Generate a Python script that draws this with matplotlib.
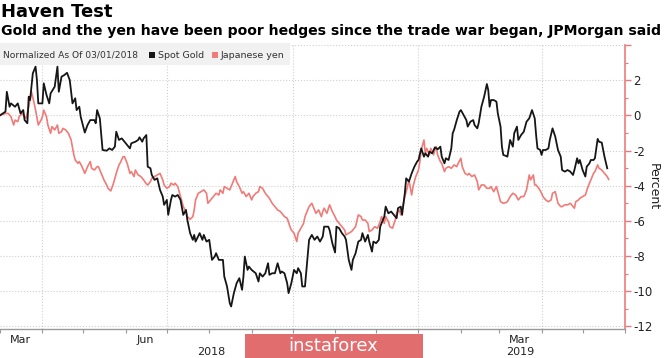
import pandas as pd
import matplotlib
matplotlib.use('Agg')
import matplotlib.pyplot as plt
from matplotlib.patches import Rectangle
from matplotlib.ticker import FixedLocator, FuncFormatter

plt.rcParams['axes.unicode_minus'] = False

# data: days since 2018-03-01 (normalization date) and % change
base_date = pd.Timestamp('2018-03-01')

gold_days = [0, 4, 5, 7, 8, 11, 13, 15, 17, 18, 20, 21, 22, 24, 26, 27, 28, 30, 31, 32, 34, 36, 37, 40,
             42, 43, 45, 47, 49, 51, 53, 55, 56, 58, 59, 62, 64, 66, 69, 70, 71, 73, 75, 78, 80, 82, 84,
             85, 87, 89, 90, 91, 93, 95, 96, 99, 101, 102, 104, 105, 107, 108, 110, 111, 113, 115, 117,
             119, 120, 122, 123, 125, 126, 128, 130, 132, 134, 136, 137, 139, 141, 142, 143, 146, 148,
             149, 151, 153, 155, 157, 158, 160, 163, 164, 166, 168, 169, 171, 173, 175, 177, 178, 179,
             181, 182, 184, 187, 189, 190, 192, 194, 196, 197, 199, 201, 203, 205, 206, 208, 210, 211,
             213, 215, 217, 218, 220, 221, 223, 226, 228, 230, 232, 234, 236, 237, 240, 241, 243, 245,
             246, 248, 250, 252, 253, 255, 257, 258, 260, 262, 264, 265, 267, 269, 270, 272, 273, 275,
             277, 278, 279, 281, 282, 284, 286, 288, 290, 291, 293, 294, 296, 297, 299, 301, 303, 305,
             306, 308, 310, 311, 313, 314, 316, 318, 320, 322, 323, 325, 326, 328, 330, 331, 332, 334,
             336, 337, 339, 341, 342, 344, 346, 347, 349, 350, 352, 354, 356, 357, 358, 359, 361, 363,
             364, 366, 367, 368, 370, 371, 373, 375, 376, 378, 379, 381, 383, 384, 385, 387, 389, 391,
             392, 393, 395, 396, 397, 399, 401, 402, 404, 406, 408, 410, 411, 413, 415, 417, 419, 420,
             422, 423, 424, 426, 428, 429, 431, 432, 434, 435, 437, 438, 440, 442, 444]
gold_pct = [0.0, 0.21, 1.34, 0.49, 0.68, 0.49, 0.68, 0.11, 0.30, -0.27, -0.45, 1.06, 0.87, 2.39, 2.77,
            2.01, 0.68, 0.68, 0.68, 1.82, 1.16, 0.68, 1.25, 1.63, 2.77, 1.34, 2.20, 2.29, 2.42, 2.01,
            0.68, 0.97, 0.30, 0.49, -0.08, -0.98, -0.55, -0.27, -0.27, -0.45, 0.30, -0.17, -1.97, -2.01,
            -1.88, -1.97, -1.78, -0.93, -1.40, -1.31, -1.40, -1.50, -1.69, -1.88, -1.59, -1.50, -1.40,
            -1.25, -1.50, -1.31, -1.12, -2.92, -3.01, -3.39, -3.67, -3.58, -4.24, -4.62, -5.09, -4.81,
            -5.66, -4.81, -4.53, -4.62, -4.53, -4.81, -5.66, -5.38, -5.95, -6.70, -7.08, -6.80, -7.18,
            -6.70, -7.08, -6.80, -7.18, -7.08, -8.22, -8.03, -7.84, -8.22, -8.22, -9.17, -9.73, -10.68,
            -10.87, -10.11, -9.55, -9.26, -9.92, -9.17, -8.03, -8.79, -8.60, -8.79, -8.98, -9.45, -8.98,
            -9.17, -8.98, -8.41, -9.07, -8.98, -8.98, -8.41, -8.98, -8.88, -8.98, -9.55, -10.11, -9.55,
            -8.79, -8.98, -8.69, -8.98, -9.73, -9.73, -7.08, -6.80, -7.08, -6.89, -7.18, -6.89, -6.33,
            -6.33, -6.52, -7.27, -7.80, -6.33, -6.42, -6.70, -6.89, -7.08, -8.22, -8.79, -8.22, -7.84,
            -7.18, -7.08, -6.70, -7.18, -6.80, -7.18, -7.75, -7.18, -7.27, -7.08, -6.33, -6.14, -5.76,
            -5.19, -5.57, -5.47, -5.66, -5.85, -5.28, -5.19, -5.66, -4.43, -3.58, -3.77, -3.30, -2.92,
            -2.63, -2.54, -1.88, -2.35, -2.16, -2.35, -2.06, -2.16, -1.82, -1.93, -1.78, -2.35, -2.73,
            -2.44, -2.54, -1.88, -1.02, -0.83, -0.27, 0.21, 0.30, 0.02, -0.27, -0.64, -0.36, -0.27,
            -0.55, -0.74, -0.45, 0.49, 1.06, 1.78, 1.44, 0.49, 0.87, 0.87, 0.78, 0.11, -0.64, -1.78,
            -2.25, -2.31, -2.35, -1.40, -1.78, -1.02, -0.64, -1.40, -1.12, -0.93, -0.64, -0.36, -0.17,
            0.30, -0.17, -1.12, -1.88, -1.97, -2.25, -1.97, -1.97, -1.88, -1.40, -0.74, -1.21, -1.97,
            -2.35, -3.11, -3.20, -3.11, -3.20, -3.39, -3.11, -2.44, -2.73, -2.54, -3.11, -3.48, -2.92,
            -2.73, -2.54, -2.54, -2.44, -1.34, -1.50, -1.55, -2.35, -3.01]

yen_days = [0, 4, 6, 8, 10, 11, 13, 14, 16, 17, 19, 21, 23, 25, 26, 28, 30, 31, 32, 34, 35, 37, 38, 40,
            42, 43, 45, 46, 48, 50, 52, 54, 55, 57, 58, 60, 62, 64, 66, 67, 69, 71, 72, 74, 76, 78, 79,
            81, 83, 85, 87, 88, 90, 91, 93, 95, 96, 98, 99, 101, 103, 105, 107, 108, 110, 111, 113, 115,
            117, 119, 120, 122, 124, 125, 127, 128, 130, 131, 132, 134, 136, 137, 139, 141, 142, 143,
            145, 147, 149, 151, 152, 154, 156, 158, 160, 161, 163, 164, 166, 168, 170, 172, 173, 175,
            177, 178, 180, 182, 184, 185, 187, 189, 190, 192, 194, 196, 197, 199, 201, 203, 205, 206,
            208, 210, 212, 213, 215, 217, 218, 220, 222, 223, 225, 226, 228, 230, 231, 233, 235, 236,
            237, 239, 241, 243, 245, 246, 248, 250, 252, 253, 255, 257, 258, 260, 262, 264, 265, 267,
            269, 270, 272, 274, 276, 278, 279, 281, 282, 284, 285, 287, 289, 290, 292, 293, 295, 296,
            298, 299, 301, 302, 304, 306, 307, 308, 310, 311, 312, 314, 315, 317, 318, 319, 320, 322,
            323, 325, 326, 328, 330, 332, 334, 335, 337, 338, 340, 342, 343, 345, 347, 349, 350, 352,
            354, 356, 358, 359, 361, 363, 364, 366, 368, 370, 371, 373, 375, 377, 379, 381, 383, 384,
            385, 387, 388, 390, 391, 392, 394, 396, 397, 399, 401, 403, 404, 406, 408, 410, 411, 413,
            415, 417, 419, 420, 421, 423, 424, 426, 428, 430, 432, 434, 435, 437, 438, 440, 442, 444,
            445]
yen_pct = [0.0, 0.11, 0.11, -0.08, -0.55, -0.27, -0.36, -0.08, 0.11, 0.02, -0.17, 0.49, 1.34, 0.68,
           0.30, -0.55, -0.27, -0.08, 0.30, -0.08, -0.55, -1.02, -0.64, -0.83, -0.55, -1.02, -0.93,
           -0.74, -0.83, -1.02, -1.40, -2.25, -2.54, -2.73, -2.63, -2.92, -3.30, -2.92, -2.63, -3.01,
           -3.11, -2.92, -2.92, -3.30, -3.67, -3.96, -4.15, -4.30, -3.86, -3.30, -2.82, -2.69, -2.35,
           -2.35, -2.73, -3.30, -3.20, -3.48, -3.11, -3.39, -3.48, -3.67, -3.90, -3.96, -3.77, -3.58,
           -3.48, -3.39, -3.30, -3.67, -3.96, -4.15, -4.05, -3.86, -3.96, -3.86, -4.05, -4.34, -4.62,
           -5.19, -5.47, -5.76, -5.91, -5.76, -5.38, -4.81, -4.43, -4.34, -4.24, -4.43, -5.00, -4.81,
           -4.62, -4.43, -4.53, -4.24, -4.43, -4.05, -4.15, -4.24, -3.86, -3.48, -3.77, -4.05, -4.43,
           -4.34, -4.62, -4.43, -4.81, -4.62, -4.43, -4.34, -4.05, -4.15, -4.43, -4.62, -4.72, -5.00,
           -5.19, -5.38, -5.47, -5.57, -5.76, -5.85, -6.33, -6.52, -6.70, -7.18, -6.70, -6.42, -6.14,
           -5.76, -5.38, -5.19, -5.00, -5.38, -5.57, -5.38, -5.76, -5.47, -5.28, -5.57, -5.09, -5.47,
           -5.76, -5.95, -6.14, -6.33, -6.52, -6.80, -6.70, -6.61, -6.52, -6.33, -5.66, -5.76, -5.95,
           -5.95, -6.14, -6.61, -6.52, -6.33, -6.42, -6.04, -5.76, -6.14, -5.76, -6.04, -6.33, -6.42,
           -5.95, -5.57, -5.38, -5.66, -5.00, -4.62, -4.05, -3.67, -4.53, -4.05, -3.48, -3.11, -2.63,
           -1.97, -1.40, -2.16, -1.88, -2.25, -1.88, -2.25, -1.97, -1.78, -2.25, -2.63, -2.73, -3.20,
           -3.01, -2.92, -3.01, -2.82, -2.92, -2.73, -2.44, -2.92, -3.30, -3.39, -3.30, -3.48, -3.39,
           -3.77, -4.24, -3.96, -3.96, -4.15, -4.15, -4.05, -4.34, -4.05, -4.34, -4.91, -5.00, -4.96,
           -4.91, -4.62, -4.43, -4.53, -4.81, -4.62, -4.62, -4.43, -4.24, -3.39, -3.67, -3.39, -3.96,
           -3.96, -4.15, -4.43, -4.62, -4.81, -4.91, -4.81, -4.43, -4.34, -5.00, -5.19, -5.19, -5.09,
           -5.09, -5.00, -5.19, -5.28, -4.91, -4.81, -4.72, -4.62, -4.53, -4.05, -3.67, -3.30, -3.20,
           -2.82, -3.01, -3.11, -3.30, -3.48, -3.64]

title = 'Haven Test'
subtitle = 'Gold and the yen have been poor hedges since the trade war began, JPMorgan said'
legend_note = 'Normalized As Of 03/01/2018'
series_names = ['Spot Gold', 'Japanese yen']
month_label_dates = ['2018-03-16', '2018-06-15', '2018-09-15', '2018-12-16', '2019-03-16']
month_labels = ['Mar', 'Jun', 'Sep', 'Dec', 'Mar']
quarter_lines = ['2018-04-01', '2018-07-01', '2018-10-01', '2019-01-01', '2019-04-01']
x_start, x_end = 3.5, 455.2   # visible window, days since base date
y_ticks = list(range(-12, 5, 2))

gold_color = '#161616'
yen_color = '#f07b78'
axis_red = '#ec7a7c'

W, H = 665, 358
fig = plt.figure(figsize=(W / 100, H / 100), dpi=100)


def fx(px):
    return px / W


def fy(py):
    return 1 - py / H


ax_top, ax_bot = 45, 329
ax = fig.add_axes([0, fy(ax_bot), fx(625), (ax_bot - ax_top) / H])

gold_dates = base_date + pd.to_timedelta(gold_days, unit='D')
yen_dates = base_date + pd.to_timedelta(yen_days, unit='D')
ax.plot(yen_dates, yen_pct, color=yen_color, lw=1.2, zorder=3)
ax.plot(gold_dates, gold_pct, color=gold_color, lw=1.3, zorder=4)

x0 = base_date + pd.Timedelta(days=x_start)
x1 = base_date + pd.Timedelta(days=x_end)
ax.set_xlim(x0, x1)
ax.set_ylim(-12.15, 4.0)

# y axis on the right, red spine
ax.yaxis.tick_right()
ax.yaxis.set_label_position('right')
ax.set_yticks(y_ticks)
ax.yaxis.set_major_formatter(FuncFormatter(lambda v, p: '' if v > 3 else f'{v:.0f}'))
ax.yaxis.set_minor_locator(FixedLocator(list(range(-11, 5, 2))))
ax.tick_params(axis='y', which='major', length=4, width=1, color=axis_red, labelsize=8.5,
               labelcolor='#222222', pad=2)
ax.tick_params(axis='y', which='minor', length=2, width=0.8, color=axis_red)
ax.set_ylabel('Percent', rotation=270, labelpad=5, fontsize=9, color='#222222')
ax.grid(axis='y', which='major', ls=':', color='#cfcfcf', lw=0.8)

for q in quarter_lines:
    ax.axvline(pd.Timestamp(q), ls=':', color='#cfcfcf', lw=0.8, zorder=1)

# x axis: month ticks, labels in the middle of month
months = pd.date_range('2018-03-01', '2019-06-01', freq='MS')
ax.set_xticks(months)
ax.tick_params(axis='x', which='major', length=3, width=0.8, color='#9a9a9a', labelbottom=False)
ax.set_xticks(pd.to_datetime(month_label_dates), minor=True)
ax.set_xticklabels(month_labels, minor=True)
ax.tick_params(axis='x', which='minor', length=0, pad=4, labelsize=8, labelcolor='#222222')

year_edge = pd.Timestamp('2019-01-01')
year_y = (ax_bot - 352) / (ax_bot - ax_top)
for yr, a, b in [('2018', x0, year_edge), ('2019', year_edge, x1)]:
    mid = a + (b - a) / 2
    ax.text(mid, year_y, yr, transform=ax.get_xaxis_transform(),
            ha='center', va='center', fontsize=8, color='#222222')

for s in ['top', 'left']:
    ax.spines[s].set_visible(False)
ax.spines['right'].set_color(axis_red)
ax.spines['right'].set_linewidth(1.2)
ax.spines['bottom'].set_color('#9a9a9a')
ax.spines['bottom'].set_linewidth(1.0)

# titles
fig.text(fx(1), fy(12), title, fontsize=13, fontweight='bold', va='center', ha='left')
fig.text(fx(1), fy(31), subtitle, fontsize=10.05, fontweight='bold', va='center', ha='left')

# legend strip
fig.add_artist(Rectangle((0, fy(65)), fx(290), (65 - 43) / H, transform=fig.transFigure,
                         facecolor='#f1f1f1', edgecolor='none', zorder=5))
fig.text(fx(3), fy(55), legend_note, fontsize=6.6, color='#333333', va='center', zorder=6)
fig.add_artist(Rectangle((fx(149), fy(58)), fx(6), 6 / H, transform=fig.transFigure,
                         facecolor=gold_color, edgecolor='none', zorder=6))
fig.text(fx(158), fy(55), series_names[0], fontsize=6.8, color='#333333', va='center', zorder=6)
fig.add_artist(Rectangle((fx(212), fy(58)), fx(6), 6 / H, transform=fig.transFigure,
                         facecolor=yen_color, edgecolor='none', zorder=6))
fig.text(fx(221), fy(55), series_names[1], fontsize=6.8, color='#333333', va='center', zorder=6)

# watermark
fig.add_artist(Rectangle((fx(245), 0), fx(423) - fx(245), (358 - 334) / H, transform=fig.transFigure,
                         facecolor='#e26d6f', edgecolor='none', zorder=7))
fig.text(fx(333), fy(346), 'instaforex', fontsize=13, color='white', ha='center', va='center', zorder=8)

fig.savefig('out.png', dpi=100)
